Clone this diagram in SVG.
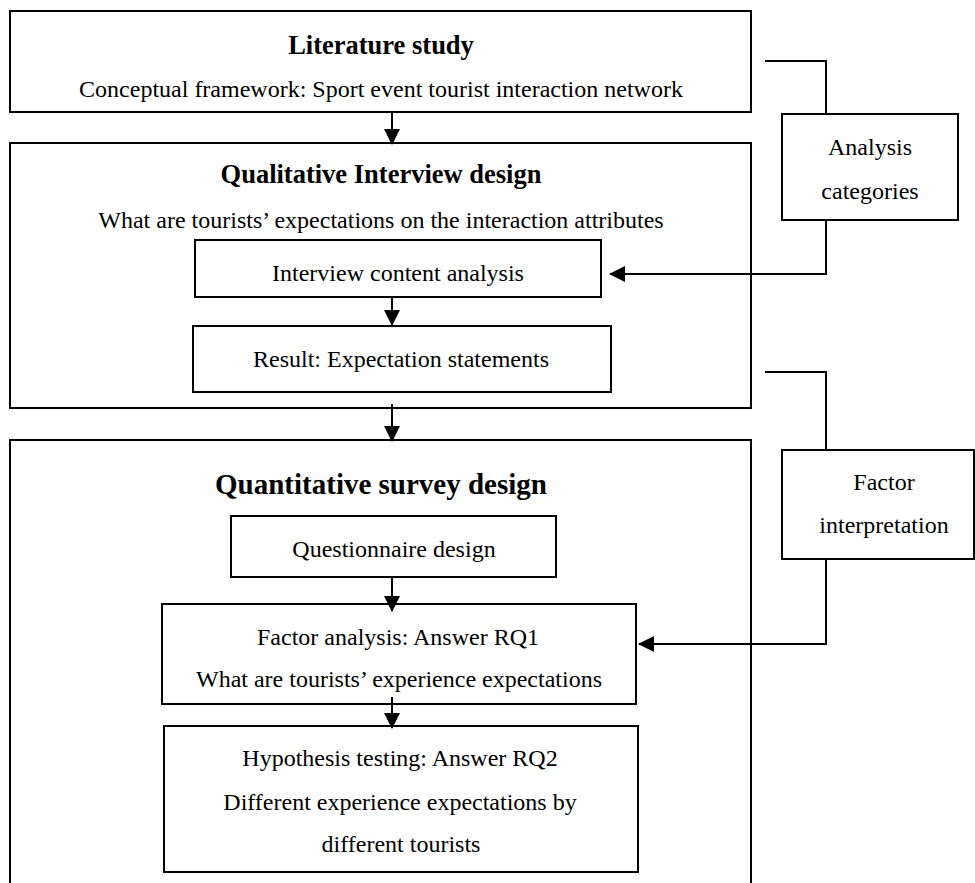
<svg xmlns="http://www.w3.org/2000/svg" width="975" height="883" viewBox="0 0 975 883">
<defs>
<style>
.box{fill:none;stroke:#000;stroke-width:2}
.ln{fill:none;stroke:#000;stroke-width:2}
.t{font-family:"Liberation Serif","Times New Roman",serif;font-size:24px;fill:#000;text-anchor:middle}
.b{font-family:"Liberation Serif","Times New Roman",serif;font-weight:bold;font-size:26.5px;fill:#000;text-anchor:middle}
.bl{font-family:"Liberation Serif","Times New Roman",serif;font-weight:bold;font-size:29px;fill:#000;text-anchor:middle}
</style>
<marker id="ah" viewBox="0 0 16 16" refX="15" refY="8" markerWidth="16" markerHeight="16" markerUnits="userSpaceOnUse" orient="auto">
<path d="M0,0 L16,8 L0,16 Z" fill="#000"/>
</marker>
</defs>
<rect width="975" height="883" fill="#fff"/>

<g id="literature-study">
<rect class="box" x="10" y="11" width="741" height="101"/>
<text class="b" x="381" y="54">Literature study</text>
<text class="t" x="381" y="97">Conceptual framework: Sport event tourist interaction network</text>
</g>

<g id="qualitative-interview-design">
<rect class="box" x="10" y="143" width="741" height="265"/>
<text class="b" x="381" y="183">Qualitative Interview design</text>
<text class="t" x="381" y="228">What are tourists’ expectations on the interaction attributes</text>
</g>

<g id="interview-content-analysis">
<rect class="box" x="195" y="240" width="406" height="57"/>
<text class="t" x="398" y="281">Interview content analysis</text>
</g>

<g id="result-expectation-statements">
<rect class="box" x="193" y="326" width="418" height="66"/>
<text class="t" x="401" y="367">Result: Expectation statements</text>
</g>

<g id="analysis-categories">
<rect class="box" x="782" y="114" width="176" height="106"/>
<text class="t" x="870" y="155">Analysis</text>
<text class="t" x="870" y="199">categories</text>
</g>

<g id="quantitative-survey-design">
<path class="box" d="M10,900 L10,440 L751,440 L751,900"/>
<text class="bl" x="381" y="494">Quantitative survey design</text>
</g>

<g id="questionnaire-design">
<rect class="box" x="231" y="516" width="325" height="61"/>
<text class="t" x="394" y="557">Questionnaire design</text>
</g>

<g id="factor-analysis">
<rect class="box" x="162" y="604" width="474" height="100"/>
<text class="t" x="398" y="645">Factor analysis: Answer RQ1</text>
<text class="t" x="399" y="687">What are tourists’ experience expectations</text>
</g>

<g id="hypothesis-testing">
<rect class="box" x="164" y="726" width="474" height="146"/>
<text class="t" x="400" y="766">Hypothesis testing: Answer RQ2</text>
<text class="t" x="400" y="810">Different experience expectations by</text>
<text class="t" x="401" y="852">different tourists</text>
</g>

<g id="factor-interpretation">
<rect class="box" x="782" y="450" width="192" height="109"/>
<text class="t" x="884" y="490">Factor</text>
<text class="t" x="884" y="533">interpretation</text>
</g>

<g id="connectors">
<line class="ln" x1="392" y1="113" x2="392" y2="144" marker-end="url(#ah)"/>
<line class="ln" x1="392" y1="297" x2="392" y2="325" marker-end="url(#ah)"/>
<line class="ln" x1="392" y1="404" x2="392" y2="441" marker-end="url(#ah)"/>
<line class="ln" x1="392" y1="578" x2="392" y2="611" marker-end="url(#ah)"/>
<line class="ln" x1="392" y1="697" x2="392" y2="728" marker-end="url(#ah)"/>
<polyline class="ln" points="765,61 826,61 826,114"/>
<polyline class="ln" points="826,220 826,274 610,274" marker-end="url(#ah)"/>
<polyline class="ln" points="765,372 826,372 826,450"/>
<polyline class="ln" points="826,559 826,644 639,644" marker-end="url(#ah)"/>
</g>
</svg>
